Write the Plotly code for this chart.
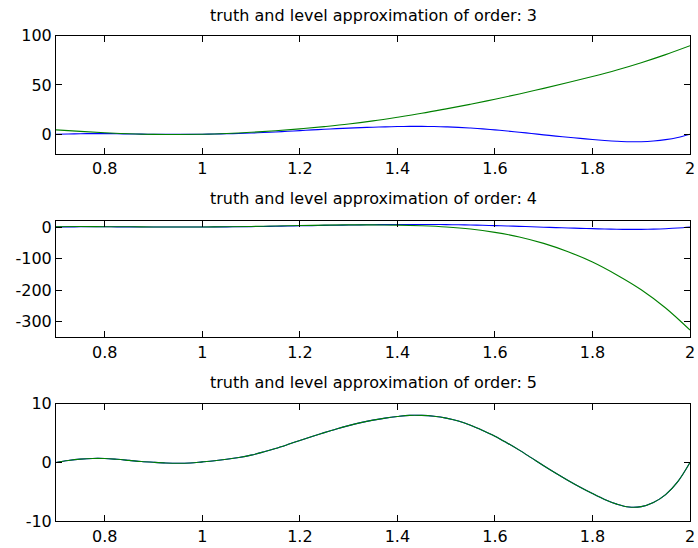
import plotly.graph_objects as go

# ---------------- data ----------------
x_truth = [0.700, 0.725, 0.750, 0.775, 0.800, 0.825, 0.850, 0.875, 0.900, 0.925,
           0.950, 0.975, 1.000, 1.025, 1.050, 1.075, 1.100, 1.125, 1.150, 1.175,
           1.200, 1.225, 1.250, 1.275, 1.300, 1.325, 1.350, 1.375, 1.400, 1.425,
           1.450, 1.475, 1.500, 1.525, 1.550, 1.575, 1.600, 1.625, 1.650, 1.675,
           1.700, 1.725, 1.750, 1.775, 1.800, 1.825, 1.850, 1.875, 1.900, 1.925,
           1.950, 1.975, 2.000]
truth = [0.00, 0.33, 0.57, 0.69, 0.68, 0.54, 0.36, 0.17, 0.03, -0.08,
         -0.13, -0.08, 0.10, 0.30, 0.55, 0.85, 1.25, 1.78, 2.38, 3.05,
         3.75, 4.43, 5.08, 5.70, 6.27, 6.78, 7.20, 7.55, 7.82, 8.02,
         8.01, 7.86, 7.55, 7.05, 6.33, 5.45, 4.48, 3.33, 2.10, 0.78,
         -0.55, -1.83, -3.05, -4.20, -5.28, -6.28, -7.08, -7.58, -7.50, -6.80,
         -5.45, -3.25, 0.00]
approx5 = [0.00, 0.33, 0.57, 0.69, 0.68, 0.54, 0.36, 0.17, 0.03, -0.08,
           -0.13, -0.08, 0.10, 0.30, 0.55, 0.85, 1.25, 1.78, 2.38, 3.05,
           3.75, 4.43, 5.08, 5.70, 6.27, 6.78, 7.20, 7.55, 7.82, 8.02,
           8.01, 7.86, 7.55, 7.05, 6.33, 5.45, 4.48, 3.33, 2.10, 0.78,
           -0.55, -1.83, -3.05, -4.20, -5.28, -6.28, -7.08, -7.58, -7.50, -6.80,
           -5.45, -3.25, 0.00]

x_approx = [0.70, 0.75, 0.80, 0.85, 0.90, 0.95, 1.00, 1.05, 1.10, 1.15,
            1.20, 1.25, 1.30, 1.35, 1.40, 1.45, 1.50, 1.55, 1.60, 1.65,
            1.70, 1.75, 1.80, 1.85, 1.90, 1.95, 2.00]
approx3 = [4.5, 2.9, 1.5, 0.5, -0.1, -0.2, 0.1, 0.8, 2.0, 3.6,
           5.5, 7.8, 10.4, 13.6, 17.3, 21.3, 25.8, 30.5, 35.6, 40.9,
           46.6, 52.5, 58.6, 65.2, 72.6, 80.8, 89.8]
approx4 = [1.0, 1.4, 1.0, 0.6, 0.2, -0.1, 0.1, 0.7, 1.8, 3.2,
           4.6, 5.8, 6.6, 6.8, 6.0, 3.8, 0.0, -6.5, -17.0, -31.5,
           -52.0, -78.5, -111.0, -152.0, -199.0, -257.0, -327.0]

orders = [3, 4, 5]
x_tickvals = [0.8, 1.0, 1.2, 1.4, 1.6, 1.8, 2.0]
x_ticktext = ["0.8", "1", "1.2", "1.4", "1.6", "1.8", "2"]
y_tickvals = [[0, 50, 100], [-300, -200, -100, 0], [-10, 0, 10]]
y_ticktext = [["0", "50", "100"], ["-300", "-200", "-100", "0"], ["-10", "0", "10"]]
y_ranges = [[-20, 100], [-350, 20], [-10, 10]]
x_range = [0.7, 2.0]

approximations = [approx3, approx4, approx5]
approx_x = [x_approx, x_approx, x_truth]

# ---------------- layout ----------------
W, H = 698, 548
left_px, right_px = 56, 690
panels_px = [(35.7, 154.0), (220.7, 337.3), (403.7, 521.3)]  # (top, bottom)
title_px = [16, 199, 382.5]

FONT = "DejaVu Sans"
FS = 16
fig = go.Figure()

axis_common = dict(
    showline=True, linecolor="black", linewidth=1, mirror="ticks",
    ticks="inside", ticklen=6, tickwidth=1, tickcolor="black",
    showgrid=False, zeroline=False, automargin=False,
    tickfont=dict(family=FONT, size=FS, color="black"),
)

annotations = []
for i in range(3):
    n = "" if i == 0 else str(i + 1)
    xa = "x" + n
    ya = "y" + n
    fig.add_trace(go.Scatter(x=x_truth, y=truth, mode="lines",
                             line=dict(color="#0000FF", width=1.1, shape="spline"),
                             xaxis=xa, yaxis=ya, showlegend=False))
    fig.add_trace(go.Scatter(x=approx_x[i], y=approximations[i], mode="lines",
                             line=dict(color="#008000", width=1.1, shape="spline"),
                             xaxis=xa, yaxis=ya, showlegend=False))
    top, bot = panels_px[i]
    fig.layout["xaxis" + n] = dict(
        axis_common, domain=[left_px / W, right_px / W], anchor=ya,
        range=x_range, tickmode="array", tickvals=x_tickvals, ticktext=x_ticktext,
    )
    fig.layout["yaxis" + n] = dict(
        axis_common, domain=[1 - bot / H, 1 - top / H], anchor=xa,
        range=y_ranges[i], tickmode="array", tickvals=y_tickvals[i],
        ticktext=y_ticktext[i],
    )
    annotations.append(dict(
        text="truth and level approximation of order: %d" % orders[i],
        xref="paper", yref="paper",
        x=(left_px + right_px) / 2 / W, y=1 - title_px[i] / H,
        xanchor="center", yanchor="middle", showarrow=False,
        font=dict(family=FONT, size=FS, color="black"),
    ))

fig.update_layout(
    template="none",
    width=W, height=H, autosize=False,
    margin=dict(l=0, r=0, t=0, b=0, pad=0),
    paper_bgcolor="white", plot_bgcolor="white",
    annotations=annotations,
)

fig.write_html(
    "out.html",
    config={"displayModeBar": False},
    post_script="document.body.style.margin='0';document.body.style.overflow='hidden';",
)
